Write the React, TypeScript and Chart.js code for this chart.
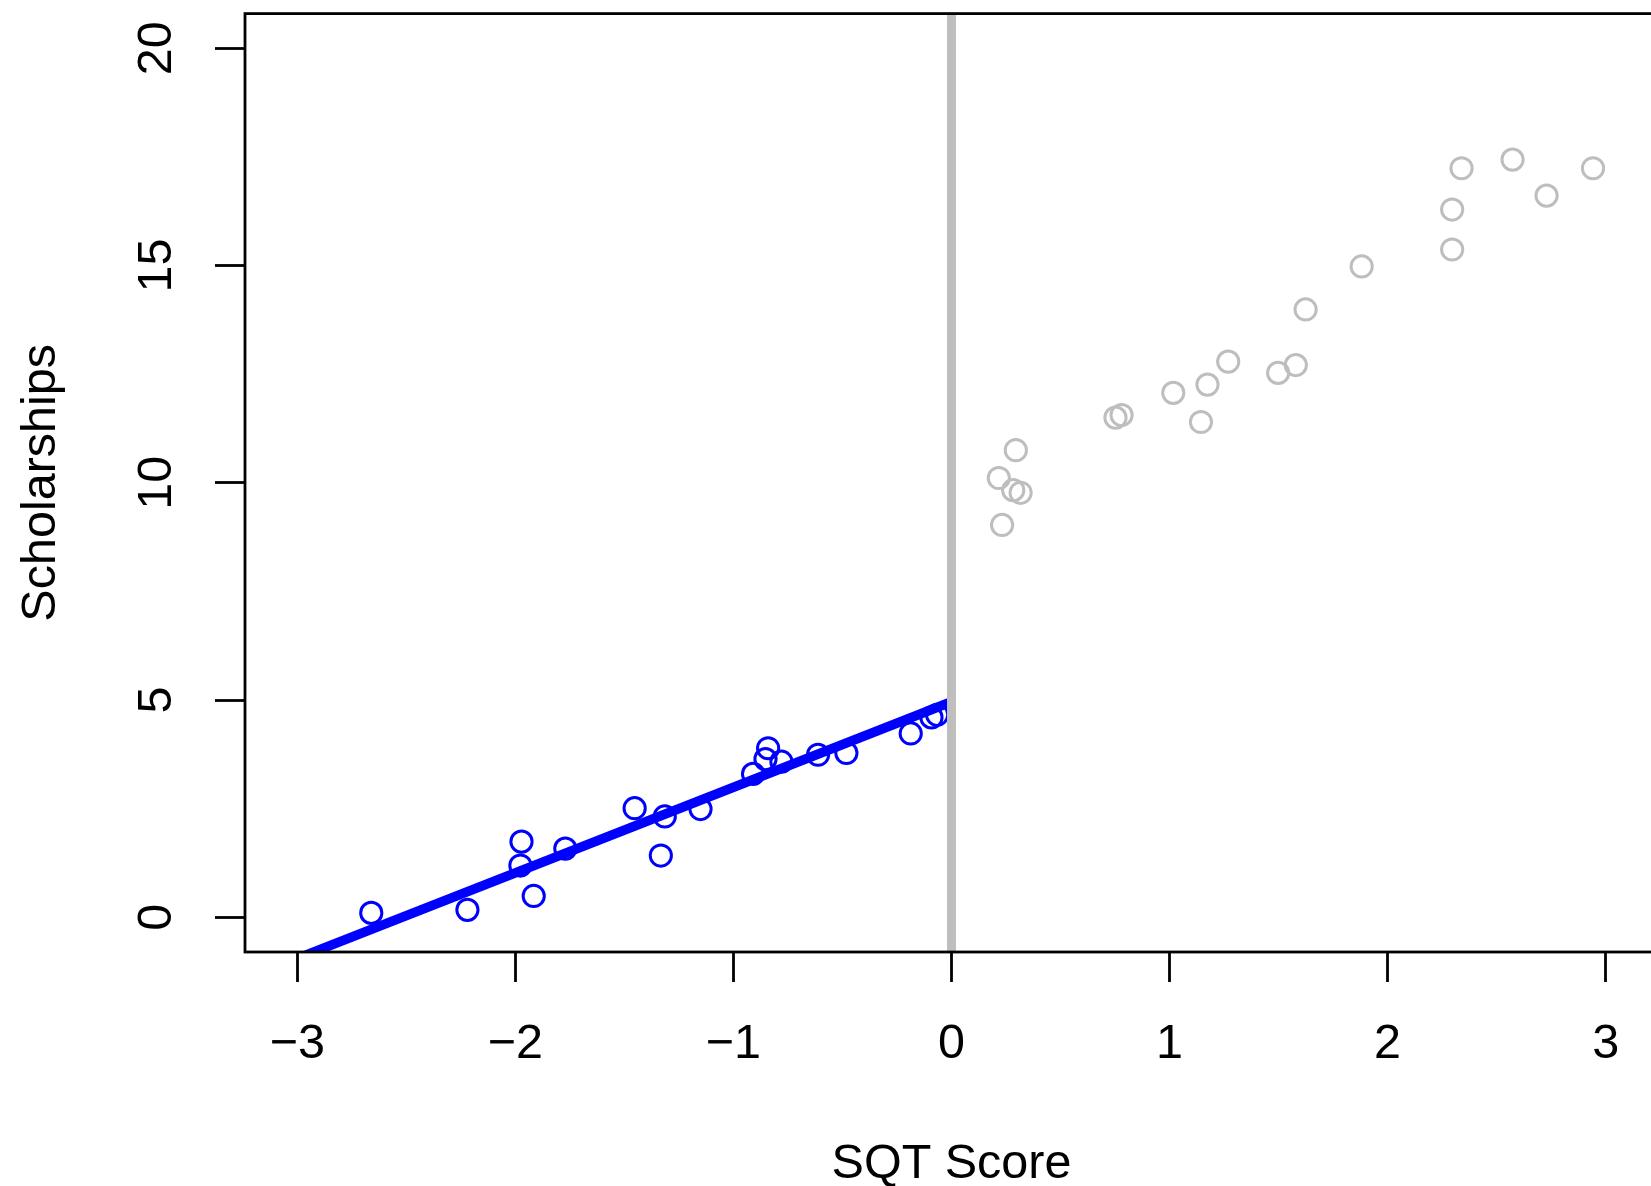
import React, { useEffect, useRef } from 'react';
import { Chart, registerables } from 'chart.js';

Chart.register(...registerables);

// ---- data ----
const blueX = [-2.661, -2.22, -1.977, -1.972, -1.916, -1.771, -1.453, -1.333, -1.315, -1.151, -0.91, -0.853, -0.841, -0.78, -0.612, -0.482, -0.187, -0.092, -0.066];
const blueY = [0.1, 0.17, 1.19, 1.74, 0.49, 1.58, 2.51, 1.42, 2.32, 2.49, 3.3, 3.64, 3.89, 3.58, 3.74, 3.78, 4.23, 4.6, 4.66];

const grayX = [0.217, 0.232, 0.283, 0.295, 0.317, 0.752, 0.78, 1.017, 1.144, 1.174, 1.269, 1.498, 1.579, 1.624, 1.881, 2.296, 2.296, 2.339, 2.573, 2.729, 2.942];
const grayY = [10.11, 9.03, 9.83, 10.75, 9.77, 11.5, 11.56, 12.07, 11.4, 12.26, 12.79, 12.53, 12.71, 13.99, 14.98, 15.37, 16.29, 17.24, 17.44, 16.61, 17.24];

const fitLineX = [-3.24, 0];
const fitLineY = [-1.42, 4.96];

const cutoff = 0;

const xTicks = [-3, -2, -1, 0, 1, 2, 3];
const yTicks = [0, 5, 10, 15, 20];
const xRange = [-3.24, 3.24];
const yRange = [-0.8, 20.8];

const xTitle = 'SQT Score';
const yTitle = 'Scholarships';

// ---- layout ----
const W = 1700;
const H = 1186;
const AREA_LEFT = 245;
const AREA_RIGHT = 1658;
const AREA_TOP = 13;
const AREA_BOTTOM = 952;
const FONT = '"Liberation Sans", Arial, Helvetica, sans-serif';
const FS = 48.5;

const fmt = (v: number) => (v < 0 ? '\u2212' + Math.abs(v) : String(v));

export default function App() {
  const ref = useRef<HTMLCanvasElement>(null);

  useEffect(() => {
    if (!ref.current) return;
    const boxPlugin = {
      id: 'rbox',
      afterDatasetsDraw(chart: any) {
        const { ctx, chartArea: a } = chart;
        ctx.save();
        ctx.strokeStyle = '#000';
        ctx.lineWidth = 2.8;
        ctx.strokeRect(a.left, a.top, a.right - a.left, a.bottom - a.top);
        ctx.restore();
      },
    };

    const chart = new Chart(ref.current, {
      type: 'scatter',
      data: {
        datasets: [
          {
            type: 'line',
            data: [
              { x: cutoff, y: yRange[0] },
              { x: cutoff, y: yRange[1] },
            ],
            borderColor: '#bebebe',
            borderWidth: 9,
            pointRadius: 0,
            fill: false,
            clip: 0,
            order: 0,
          } as any,
          {
            type: 'line',
            data: fitLineX.map((x, i) => ({ x, y: fitLineY[i] })),
            borderColor: '#0000ff',
            borderWidth: 9.5,
            pointRadius: 0,
            fill: false,
            clip: 0,
            order: 1,
          } as any,
          {
            data: blueX.map((x, i) => ({ x, y: blueY[i] })),
            borderColor: '#0000ff',
            backgroundColor: 'rgba(0,0,0,0)',
            pointRadius: 10.6,
            borderWidth: 3,
            order: 2,
          },
          {
            data: grayX.map((x, i) => ({ x, y: grayY[i] })),
            borderColor: '#bebebe',
            backgroundColor: 'rgba(0,0,0,0)',
            pointRadius: 10.6,
            borderWidth: 3,
            order: 3,
          },
        ],
      },
      options: {
        animation: false,
        responsive: false,
        devicePixelRatio: 1,
        events: [],
        layout: {
          padding: { left: 0, top: AREA_TOP, right: W - AREA_RIGHT, bottom: 0 },
        },
        plugins: {
          legend: { display: false },
          tooltip: { enabled: false },
        },
        scales: {
          x: {
            type: 'linear',
            min: xRange[0],
            max: xRange[1],
            afterBuildTicks: (s: any) => {
              s.ticks = xTicks.map((v) => ({ value: v }));
            },
            afterFit: (s: any) => {
              s.height = H - AREA_BOTTOM;
              s.paddingLeft = 0;
              s.paddingRight = 0;
              s.paddingTop = 0;
              s.paddingBottom = 0;
            },
            grid: {
              drawOnChartArea: false,
              drawTicks: true,
              tickLength: 30,
              tickWidth: 2.8,
              tickColor: '#000',
            },
            border: { display: false },
            ticks: {
              autoSkip: false,
              minRotation: 0,
              maxRotation: 0,
              padding: 34,
              color: '#000',
              font: { family: FONT, size: FS },
              callback: (v: any) => fmt(Number(v)),
            },
            title: {
              display: true,
              text: xTitle,
              color: '#000',
              font: { family: FONT, size: FS, lineHeight: 0.9 },
              padding: { top: 0, bottom: 0 },
            },
          },
          y: {
            type: 'linear',
            min: yRange[0],
            max: yRange[1],
            afterBuildTicks: (s: any) => {
              s.ticks = yTicks.map((v) => ({ value: v }));
            },
            afterFit: (s: any) => {
              s.width = AREA_LEFT;
              s.paddingLeft = 0;
              s.paddingRight = 0;
              s.paddingTop = 0;
              s.paddingBottom = 0;
            },
            grid: {
              drawOnChartArea: false,
              drawTicks: true,
              tickLength: 30,
              tickWidth: 2.8,
              tickColor: '#000',
            },
            border: { display: false },
            ticks: {
              autoSkip: false,
              minRotation: 90,
              maxRotation: 90,
              crossAlign: 'center',
              padding: 30.5,
              color: '#000',
              font: { family: FONT, size: FS },
              callback: (v: any) => fmt(Number(v)),
            },
            title: {
              display: true,
              text: yTitle,
              color: '#000',
              font: { family: FONT, size: FS, lineHeight: 1 },
              padding: { top: 17, bottom: 0 },
            },
          },
        },
      } as any,
      plugins: [boxPlugin],
    });

    return () => chart.destroy();
  }, []);

  return (
    <div
      style={{
        position: 'fixed',
        left: 0,
        top: 0,
        width: 1651,
        height: 1186,
        overflow: 'hidden',
        background: '#fff',
      }}
    >
      <canvas ref={ref} width={W} height={H} style={{ width: W, height: H, display: 'block' }} />
    </div>
  );
}
